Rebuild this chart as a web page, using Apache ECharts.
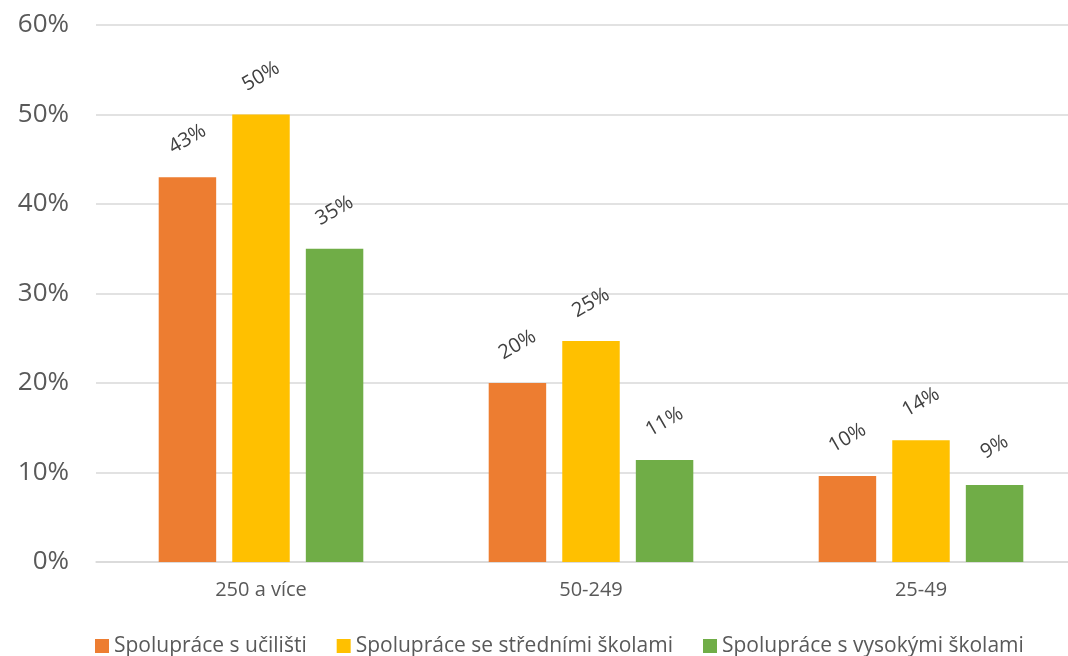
<!DOCTYPE html>
<html>
<head>
<meta charset="utf-8">
<script src="https://cdn.jsdelivr.net/npm/echarts@6/dist/echarts.min.js"></script>
<style>
html,body{margin:0;padding:0;background:#fff;}
#c{width:1068px;height:656px;}
</style>
</head>
<body>
<div id="c"></div>
<script>
const categories = ['250 a více', '50-249', '25-49'];
const seriesNames = ['Spolupráce s učilišti', 'Spolupráce se středními školami', 'Spolupráce s vysokými školami'];
const ucilisteValues = [43, 20, 9.6];
const stredniValues = [50, 24.7, 13.6];
const vysokeValues = [35, 11.4, 8.6];
const colors = ['#ED7D31', '#FFC000', '#70AD47'];

const chart = echarts.init(document.getElementById('c'));
const labelCfg = {
  show: true,
  position: 'top',
  distance: 38,
  rotate: 30,
  align: 'center',
  verticalAlign: 'middle',
  fontFamily: 'Open Sans',
  fontSize: 20,
  color: '#404040',
  formatter: p => Math.round(p.value) + '%'
};
function mk(name, data, color) {
  return {
    name, type: 'bar', data,
    barGap: '28%', barCategoryGap: '38%',
    itemStyle: { color },
    label: labelCfg
  };
}
chart.setOption({
  animation: false,
  grid: { left: 96, width: 990, top: 25, height: 537, outerBoundsMode: 'none', containLabel: false },
  legend: {
    top: 633, left: 95, padding: 0,
    itemWidth: 14, itemHeight: 14, itemGap: 30,
    icon: 'rect',
    textStyle: { fontFamily: 'Open Sans', fontSize: 21, lineHeight: 26, color: '#595959' },
    data: seriesNames
  },
  xAxis: {
    type: 'category', data: categories,
    axisLine: { lineStyle: { color: '#D9D9D9', width: 1.5 } },
    axisTick: { show: false },
    axisLabel: { fontFamily: 'Open Sans', fontSize: 20, color: '#595959', margin: 18 }
  },
  yAxis: {
    type: 'value', min: 0, max: 60, interval: 10,
    axisLine: { show: false }, axisTick: { show: false },
    splitLine: { lineStyle: { color: '#D9D9D9', width: 1.5 } },
    axisLabel: { fontFamily: 'Open Sans', fontSize: 26, color: '#595959', margin: 27, formatter: '{value}%' }
  },
  series: [
    mk(seriesNames[0], ucilisteValues, colors[0]),
    mk(seriesNames[1], stredniValues, colors[1]),
    mk(seriesNames[2], vysokeValues, colors[2])
  ]
});
</script>
</body>
</html>
